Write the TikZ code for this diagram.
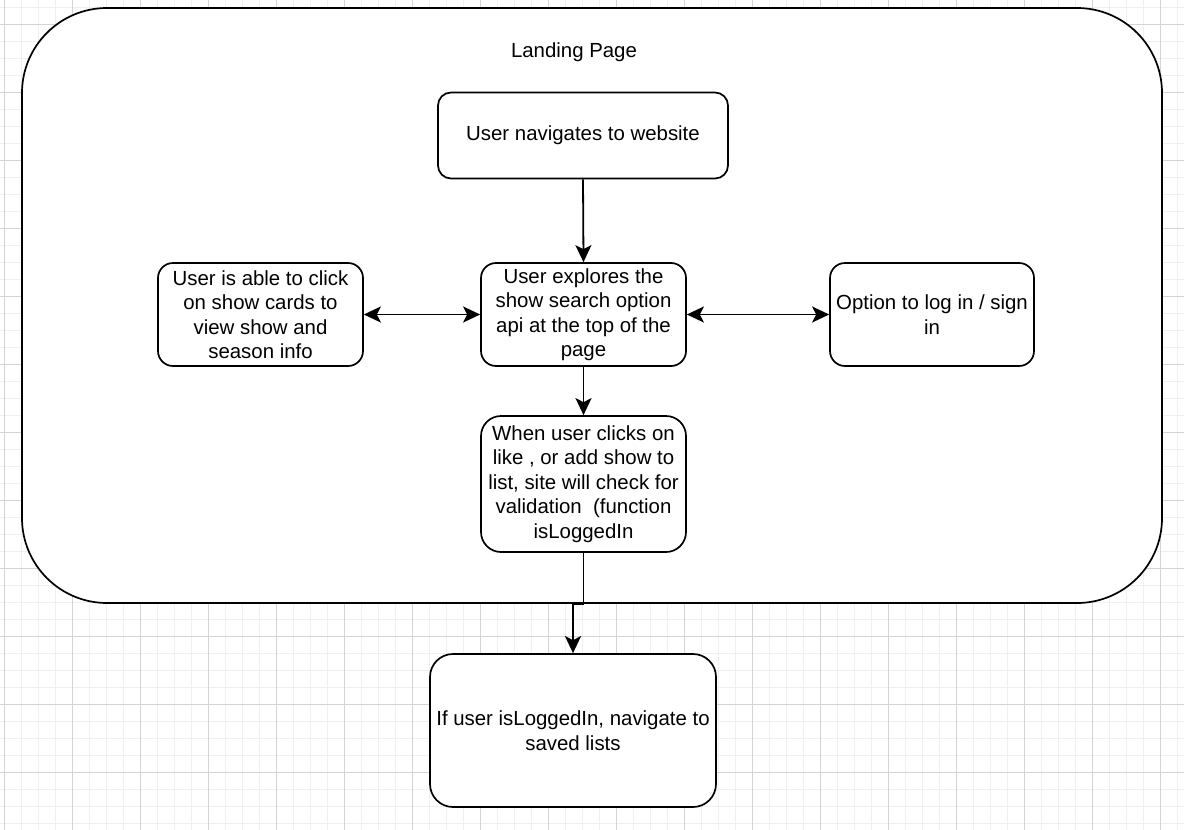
\documentclass[tikz,border=0pt]{standalone}
\usepackage{fontspec}
\setmainfont{Liberation Sans}
\usetikzlibrary{arrows.meta}
\definecolor{minorgrid}{HTML}{F0F0F0}
\definecolor{majorgrid}{HTML}{D4D4D4}
\begin{document}
\begin{tikzpicture}[x=1pt,y=-1pt,
  txt/.style={font=\fontsize{20.4}{24.5}\selectfont, align=center},
  box/.style={txt, draw=black, fill=white, line width=1.7pt, inner sep=2pt},
  conn/.style={line width=1.8pt, draw=black},
  tip/.style={-{Stealth[length=17pt,width=16pt,inset=4pt]}},
  dtip/.style={{Stealth[length=17pt,width=16pt,inset=4pt]}-{Stealth[length=17pt,width=16pt,inset=4pt]}}
]
\useasboundingbox (0,0) rectangle (1184,830);
\fill[white] (0,0) rectangle (1184,830);
% grid
\foreach \k in {0,...,69} {\draw[minorgrid, line width=1pt] ({4+17*\k},0) -- ({4+17*\k},830);}
\foreach \k in {0,...,48} {\draw[minorgrid, line width=1pt] (0,{7+17*\k}) -- (1184,{7+17*\k});}
\foreach \k in {0,...,17} {\draw[majorgrid, line width=1pt] ({4+68*\k},0) -- ({4+68*\k},830);}
\foreach \k in {0,...,11} {\draw[majorgrid, line width=1pt] (0,{24+68*\k}) -- (1184,{24+68*\k});}

% container
\node[box, rounded corners=85pt, minimum width=1140pt, minimum height=595pt] (outer) at (592,305.5) {};
\node[txt] (title) at (574,52) {Landing Page};

\node[box, rounded corners=13pt, minimum width=290pt, minimum height=86pt] (n1) at (583,135.5) {User navigates to website};
\node[box, rounded corners=15pt, minimum width=205pt, minimum height=103pt] (n2) at (583.5,314.5) {User explores the\\show search option\\api at the top of the\\page};
\node[box, rounded corners=15pt, minimum width=205pt, minimum height=103pt] (nl) at (260.5,314.5) {User is able to click\\on show cards to\\view show and\\season info};
\node[box, rounded corners=15pt, minimum width=204pt, minimum height=103pt] (nr) at (932,314.5) {Option to log in / sign\\in};
\node[box, rounded corners=20pt, minimum width=205pt, minimum height=136pt] (n4) at (583.5,484) {When user clicks on\\like , or add show to\\list, site will check for\\validation\ \ (function\\isLoggedIn};
\node[box, rounded corners=23pt, minimum width=286pt, minimum height=153pt] (n5) at (573,730.5) {If user isLoggedIn, navigate to\\saved lists};

% connectors
\draw[conn, tip] (n1.south) -- (n2.north);
\draw[conn, tip] (n2.south) -- (n4.north);
\draw[conn, dtip] (nl.east) -- (n2.west);
\draw[conn, dtip] (n2.east) -- (nr.west);
\coordinate (bend) at ([yshift=-51pt]n4.south);
\draw[conn, tip] (n4.south) -- (bend) -| (n5.north);
\end{tikzpicture}
\end{document}
